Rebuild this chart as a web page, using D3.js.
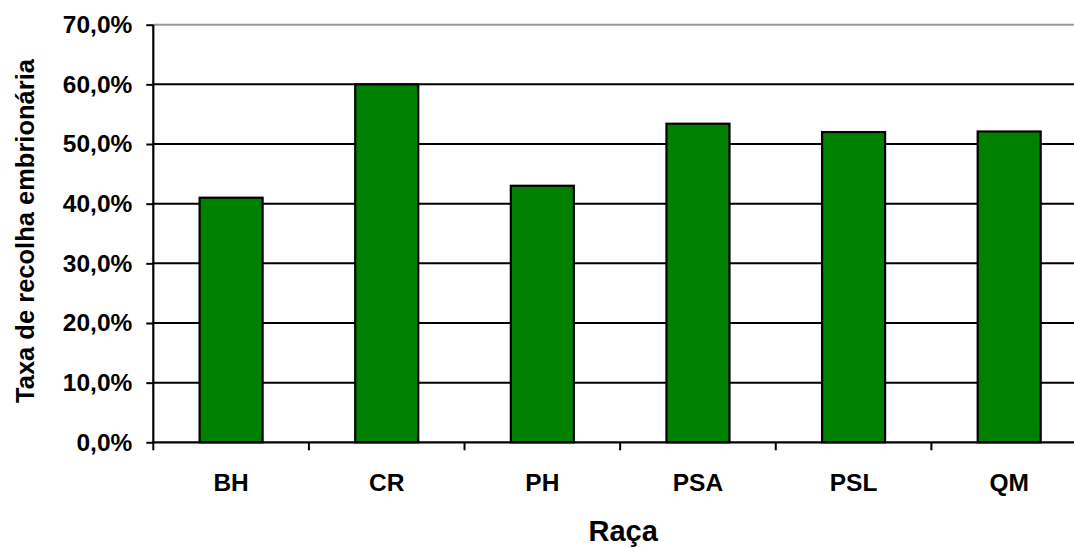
<!DOCTYPE html>
<html>
<head>
<meta charset="utf-8">
<script src="https://cdn.jsdelivr.net/npm/d3@7"></script>
<style>
  html, body { margin: 0; padding: 0; background: #fff; }
  svg { display: block; }
  text { font-family: "Liberation Sans", Arial, sans-serif; font-weight: bold; fill: #000; }
</style>
</head>
<body>
<svg id="chart" width="1074" height="548"></svg>
<script>
// Taxa de recolha embrionária por raça
const categories = ["BH", "CR", "PH", "PSA", "PSL", "QM"];
const values = [0.41, 0.60, 0.43, 0.534, 0.52, 0.521];
const yTicks = [0, 0.1, 0.2, 0.3, 0.4, 0.5, 0.6, 0.7];
const yTitle = "Taxa de recolha embrionária";
const xTitle = "Raça";

const svg = d3.select("#chart");
const plotLeft = 153.3, plotRight = 1087, plotTop = 24.7, plotBottom = 442.3;

const x = d3.scaleBand().domain(categories).range([plotLeft, plotRight]).padding(0);
const y = d3.scaleLinear().domain([0, 0.7]).range([plotBottom, plotTop]);
const fmt = v => d3.format(".1f")(v * 100).replace(".", ",") + "%";

// horizontal gridlines (top edge drawn in grey)
svg.append("g").selectAll("line").data(yTicks.filter(t => t > 0)).join("line")
  .attr("x1", plotLeft).attr("x2", plotRight)
  .attr("y1", d => y(d)).attr("y2", d => y(d))
  .attr("stroke", d => d === 0.7 ? "#999" : "#000")
  .attr("stroke-width", 2);

// bars
const barW = x.bandwidth() * 0.405;
svg.append("g").selectAll("rect").data(categories).join("rect")
  .attr("x", d => x(d) + (x.bandwidth() - barW) / 2)
  .attr("y", (d, i) => y(values[i]))
  .attr("width", barW)
  .attr("height", (d, i) => y(0) - y(values[i]))
  .attr("fill", "#008000")
  .attr("stroke", "#000")
  .attr("stroke-width", 2.2);

// y axis
const yAxis = d3.axisLeft(y).tickValues(yTicks).tickFormat(fmt).tickSize(7).tickPadding(14);
const gy = svg.append("g").attr("transform", `translate(${plotLeft},0)`).call(yAxis);
gy.select(".domain").attr("stroke", "#000").attr("stroke-width", 2.2).attr("d", `M0,${plotTop}V${plotBottom}`);
gy.selectAll(".tick line").attr("stroke", "#000").attr("stroke-width", 2);
gy.selectAll(".tick text").style("font-size", "24.5px").attr("fill", "#000");

// x axis with ticks at band boundaries
const gx = svg.append("g").attr("transform", `translate(0,${plotBottom})`);
gx.append("line").attr("x1", plotLeft).attr("x2", plotRight).attr("stroke", "#000").attr("stroke-width", 2.2);
gx.selectAll("line.tk").data(categories.concat([null])).join("line").attr("class", "tk")
  .attr("x1", (d, i) => plotLeft + i * x.step()).attr("x2", (d, i) => plotLeft + i * x.step())
  .attr("y1", 0).attr("y2", 8).attr("stroke", "#000").attr("stroke-width", 2);
gx.selectAll("text").data(categories).join("text")
  .attr("x", d => x(d) + x.bandwidth() / 2)
  .attr("y", 48.5)
  .attr("text-anchor", "middle")
  .style("font-size", "24.5px")
  .text(d => d);

// axis titles
svg.append("text")
  .attr("transform", `translate(34,231) rotate(-90)`)
  .attr("text-anchor", "middle")
  .style("font-size", "25.5px")
  .text(yTitle);

svg.append("text")
  .attr("x", (plotLeft + plotRight) / 2 + 3)
  .attr("y", 540.7)
  .attr("text-anchor", "middle")
  .style("font-size", "29px")
  .text(xTitle);
</script>
</body>
</html>
